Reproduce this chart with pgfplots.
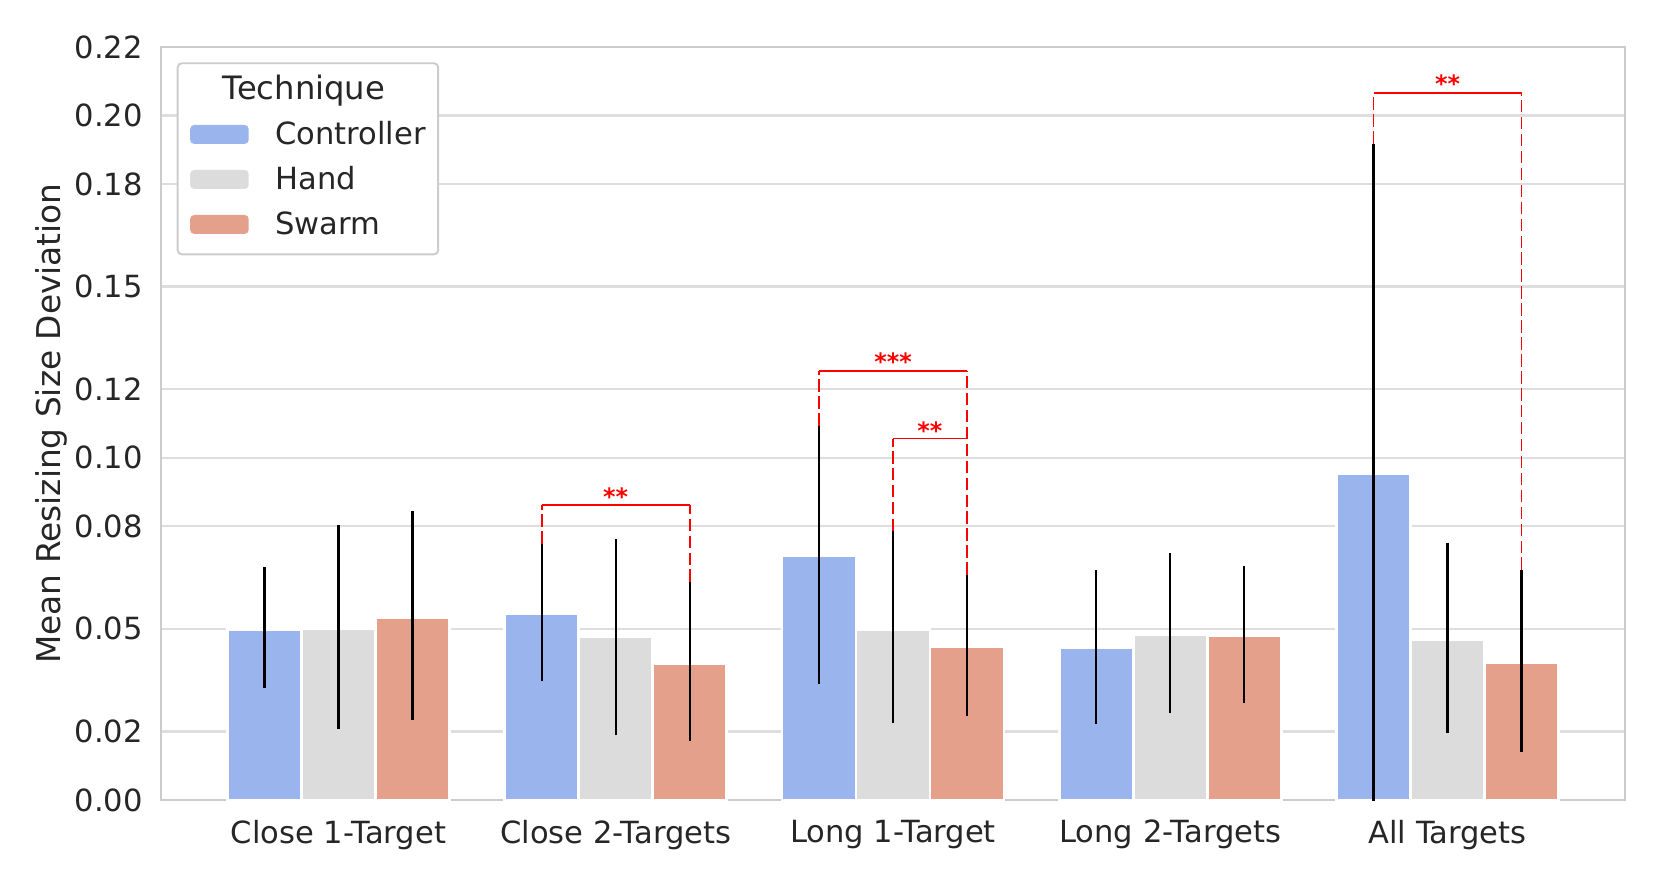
\documentclass[border=0pt]{standalone}
\usepackage{fontspec}
\setmainfont{DejaVu Sans}
\usepackage{pgfplots}
\pgfplotsset{compat=1.18}

\definecolor{ctrl}{HTML}{9AB4EE}
\definecolor{hand}{HTML}{DCDCDC}
\definecolor{swarm}{HTML}{E4A08A}
\definecolor{framec}{HTML}{CCCCCC}
\definecolor{gridc}{HTML}{DEDEDE}
\definecolor{txt}{HTML}{262626}

\newcommand{\lbl}{\fontsize{11}{13.2}\selectfont}
\newcommand{\stars}{\fontsize{8.6}{10}\selectfont\bfseries}

\pgfplotsset{
  patch legend/.style={legend image code/.code={%
    \fill[##1,draw=none] (0pt,-2.75pt) rectangle (21.1pt,4.09pt);}},
  techbar/.style={ybar, bar width=0.2667, bar shift=0pt, draw=white,
    line width=1pt, patch legend,
    error bars/y dir=both, error bars/y explicit, error bars/error mark=none,
    error bars/error bar style={black, line width=0.8pt, solid}},
  sigh/.style={red, line width=0.6pt, solid, forget plot},
  sigv/.style={red, line width=0.6pt, dash pattern=on 4.5pt off 1.6pt, forget plot},
}

\begin{document}
\begin{tikzpicture}
\useasboundingbox (-57.96pt,-30.96pt) rectangle (540pt,288pt);
\begin{axis}[
    scale only axis,
    width=527.04pt,
    height=271.08pt,
    xmin=-0.64, xmax=4.64,
    ymin=0, ymax=0.22,
    xtick={0,1,2,3,4},
    xticklabels={Close 1-Target, Close 2-Targets, Long 1-Target, Long 2-Targets, All Targets},
    ytick={0,0.02,0.05,0.08,0.10,0.12,0.15,0.18,0.20,0.22},
    yticklabels={0.00,0.02,0.05,0.08,0.10,0.12,0.15,0.18,0.20,0.22},
    major tick length=0pt,
    ymajorgrids,
    grid style={gridc, line width=0.8pt},
    axis line style={framec, line width=1pt},
    tick label style={font=\lbl, text=txt},
    xticklabel style={yshift=-3.6pt},
    yticklabel style={xshift=-3pt},
    ylabel={Mean Resizing Size Deviation},
    every axis y label/.style={at={(axis description cs:-0.075,0.5)}, rotate=90, anchor=center,
        font=\fontsize{11.8}{14}\selectfont, text=txt},
    legend cell align=left,
    legend style={at={(0.0107,0.9797)}, anchor=north west, draw=framec,
        line width=0.7pt, rounded corners=1.5pt, fill=white, font=\lbl, text=txt,
        inner xsep=4.5pt, inner ysep=4.8pt, row sep=5.6pt, column sep=9.6pt,
        nodes={inner sep=0pt, text height=8.2pt, text depth=2.4pt}},
]

\addlegendimage{empty legend}
\addlegendentry{\hspace*{-18.9pt}\fontsize{11.6}{14}\selectfont Technique}

% Controller
\addplot[techbar, fill=ctrl] coordinates {
    (-0.2667, 0.0499) += (0,0.0183) -= (0,0.0173)
    (0.7333, 0.0545) += (0,0.0204) -= (0,0.0198)
    (1.7333, 0.0714) += (0,0.0380) -= (0,0.0375)
    (2.7333, 0.0445) += (0,0.0227) -= (0,0.0223)
    (3.7333, 0.0954) += (0,0.0964) -= (0,0.0964)
};
\addlegendentry{Controller}

% Hand
\addplot[techbar, fill=hand] coordinates {
    (0, 0.0500) += (0,0.0304) -= (0,0.0293)
    (1, 0.0476) += (0,0.0288) -= (0,0.0287)
    (2, 0.0499) += (0,0.0286) -= (0,0.0273)
    (3, 0.0483) += (0,0.0238) -= (0,0.0229)
    (4, 0.0469) += (0,0.0281) -= (0,0.0273)
};
\addlegendentry{Hand}

% Swarm
\addplot[techbar, fill=swarm] coordinates {
    (0.2667, 0.0534) += (0,0.0311) -= (0,0.0301)
    (1.2667, 0.0399) += (0,0.0238) -= (0,0.0226)
    (2.2667, 0.0448) += (0,0.0210) -= (0,0.0203)
    (3.2667, 0.0480) += (0,0.0205) -= (0,0.0196)
    (4.2667, 0.0402) += (0,0.0270) -= (0,0.0261)
};
\addlegendentry{Swarm}

% significance brackets
\addplot[sigh] coordinates {(0.7333,0.0862) (1.2667,0.0862)};
\addplot[sigv] coordinates {(0.7333,0.0749) (0.7333,0.0862)};
\addplot[sigv] coordinates {(1.2667,0.0637) (1.2667,0.0862)};

\addplot[sigh] coordinates {(1.7333,0.1253) (2.2667,0.1253)};
\addplot[sigv] coordinates {(1.7333,0.1094) (1.7333,0.1253)};
\addplot[sigv] coordinates {(2.2667,0.0658) (2.2667,0.1253)};

\addplot[sigh] coordinates {(2,0.1056) (2.2667,0.1056)};
\addplot[sigv] coordinates {(2,0.0785) (2,0.1056)};

\addplot[sigh] coordinates {(3.7333,0.2065) (4.2667,0.2065)};
\addplot[sigv] coordinates {(3.7333,0.1918) (3.7333,0.2065)};
\addplot[sigv] coordinates {(4.2667,0.0672) (4.2667,0.2065)};

\node[text=red, font=\stars, inner sep=0pt, yshift=-1.8pt] at (axis cs:1,0.0901) {**};
\node[text=red, font=\stars, inner sep=0pt, yshift=-1.8pt] at (axis cs:2,0.1295) {***};
\node[text=red, font=\stars, inner sep=0pt, yshift=-1.8pt] at (axis cs:2.1333,0.1094) {**};
\node[text=red, font=\stars, inner sep=0pt, yshift=-1.8pt] at (axis cs:4,0.2108) {**};

\end{axis}
\end{tikzpicture}
\end{document}
